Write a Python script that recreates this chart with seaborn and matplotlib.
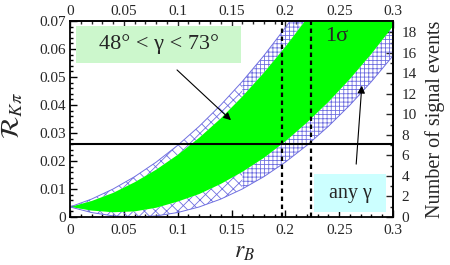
import numpy as np
import pandas as pd
import seaborn as sns
import matplotlib.pyplot as plt
from matplotlib.ticker import MultipleLocator
from matplotlib.patches import Rectangle

# --------------------------------------------------
# Values
# --------------------------------------------------
r_b = [0.00, 0.02, 0.04, 0.06, 0.08, 0.10, 0.12, 0.14,
       0.16, 0.18, 0.20, 0.22, 0.24, 0.26, 0.28, 0.30]

# outer band (any gamma)
any_gamma_upper = [0.0036, 0.0064, 0.0100, 0.0144, 0.0196, 0.0256, 0.0324, 0.0400,
                   0.0484, 0.0576, 0.0676, 0.0784, 0.0900, 0.1024, 0.1156, 0.1296]
any_gamma_lower = [0.0036, 0.0016, 0.0004, 0.0000, 0.0004, 0.0016, 0.0036, 0.0064,
                   0.0100, 0.0144, 0.0196, 0.0256, 0.0324, 0.0400, 0.0484, 0.0576]

# inner band (48 < gamma < 73)
gamma_band_upper = [0.0036, 0.0057, 0.0086, 0.0124, 0.0169, 0.0222, 0.0283, 0.0352,
                    0.0430, 0.0515, 0.0608, 0.0709, 0.0818, 0.0936, 0.1061, 0.1194]
gamma_band_lower = [0.0036, 0.0023, 0.0017, 0.0020, 0.0033, 0.0055, 0.0082, 0.0118,
                    0.0161, 0.0211, 0.0270, 0.0337, 0.0411, 0.0493, 0.0583, 0.0681]

r_kpi_measured = 0.026
r_b_limits = [0.197, 0.224]
events_per_unit = 273

x_ticks = [0, 0.05, 0.1, 0.15, 0.2, 0.25, 0.3]
x_tick_labels = ["0", "0.05", "0.1", "0.15", "0.2", "0.25", "0.3"]
y_ticks = [0, 0.01, 0.02, 0.03, 0.04, 0.05, 0.06, 0.07]
y_tick_labels = ["0", "0.01", "0.02", "0.03", "0.04", "0.05", "0.06", "0.07"]
event_ticks = [0, 2, 4, 6, 8, 10, 12, 14, 16, 18]

df = pd.DataFrame({
    "r_B": r_b,
    "any_up": any_gamma_upper,
    "any_lo": any_gamma_lower,
    "g_up": gamma_band_upper,
    "g_lo": gamma_band_lower,
})

# --------------------------------------------------
# Style
# --------------------------------------------------
sns.set_theme(style="ticks")
plt.rcParams["font.family"] = ["Liberation Serif", "DejaVu Serif"]
plt.rcParams["mathtext.fontset"] = "stix"
plt.rcParams["hatch.linewidth"] = 0.6
plt.rcParams["axes.linewidth"] = 1.3

hatch_col = "#6f6fe0"
green = "#00ff00"

fig = plt.figure(figsize=(4.5, 2.65), dpi=100)
fig.patch.set_facecolor("white")
ax = fig.add_axes([0.1556, 0.1811, 0.7178, 0.7396])

# --------------------------------------------------
# Bands
# --------------------------------------------------
x = df["r_B"].to_numpy()
left = x <= 0.16
right = x >= 0.16
for mask, hatch in [(left, "xxx"), (right, "++++")]:
    ax.fill_between(x[mask], df["g_up"][mask], df["any_up"][mask],
                    facecolor="none", edgecolor=hatch_col, hatch=hatch, linewidth=0)
    ax.fill_between(x[mask], df["any_lo"][mask], df["g_lo"][mask],
                    facecolor="none", edgecolor=hatch_col, hatch=hatch, linewidth=0)

ax.fill_between(x, df["g_lo"], df["g_up"], color=green, linewidth=0)

sns.lineplot(data=df, x="r_B", y="any_up", color=hatch_col, lw=0.7, ax=ax)
sns.lineplot(data=df, x="r_B", y="any_lo", color=hatch_col, lw=0.7, ax=ax)

# measurement line and limits
ax.axhline(r_kpi_measured, color="black", lw=1.5)
for lim in r_b_limits:
    ax.axvline(lim, color="black", lw=1.6, linestyle=(0, (2, 1.6)))

# --------------------------------------------------
# Labels and boxes
# --------------------------------------------------
ax.add_patch(Rectangle((0.0056, 0.0550), 0.1532, 0.0132,
                       facecolor="#ccf7cc", edgecolor="none", zorder=3))
ax.text(0.0822, 0.0616, "48° < γ < 73°", fontsize=16,
        ha="center", va="center", zorder=4)

ax.add_patch(Rectangle((0.2266, 0.0018), 0.0669, 0.0136,
                       facecolor="#ccffff", edgecolor="none", zorder=3))
ax.text(0.260, 0.0084, "any γ", fontsize=14.5,
        ha="center", va="center", zorder=4)

ax.text(0.248, 0.0644, "1σ", fontsize=16, ha="center", va="center", zorder=4)

ax.annotate("", xy=(0.1514, 0.0339), xytext=(0.0975, 0.0532),
            arrowprops=dict(arrowstyle="-|>", color="black", lw=0.8,
                            mutation_scale=11), zorder=5)
ax.annotate("", xy=(0.2712, 0.0479), xytext=(0.2656, 0.0179),
            arrowprops=dict(arrowstyle="-|>", color="black", lw=0.8,
                            mutation_scale=11), zorder=5)

# --------------------------------------------------
# Axes
# --------------------------------------------------
ax.set_xlim(0, 0.3)
ax.set_ylim(0, 0.07)
ax.set_xticks(x_ticks, x_tick_labels, fontsize=11)
ax.set_yticks(y_ticks, y_tick_labels, fontsize=11)
ax.xaxis.set_minor_locator(MultipleLocator(0.01))
ax.yaxis.set_minor_locator(MultipleLocator(0.002))
ax.tick_params(which="both", direction="in", color="black", width=1,
               top=False, right=False)
ax.tick_params(axis="x", pad=5)
ax.tick_params(axis="y", pad=3)
ax.tick_params(which="major", length=5)
ax.tick_params(which="minor", length=2.5)

ax.set_xlabel(r"$r_B$", fontsize=17)
ax.xaxis.set_label_coords(0.54, -0.13)
ax.set_ylabel(r"$\mathcal{R}_{K\pi}$", fontsize=19)
ax.yaxis.set_label_coords(-0.14, 0.52)

top = ax.secondary_xaxis("top")
top.set_xticks(x_ticks, x_tick_labels, fontsize=11)
top.xaxis.set_minor_locator(MultipleLocator(0.01))
top.tick_params(which="both", direction="in", width=1, pad=2)
top.tick_params(which="major", length=5)
top.tick_params(which="minor", length=2.5)

right_ax = ax.secondary_yaxis("right", functions=(lambda v: v * events_per_unit,
                                                  lambda n: n / events_per_unit))
right_ax.set_yticks(event_ticks, [str(t) for t in event_ticks], fontsize=11)
right_ax.yaxis.set_minor_locator(MultipleLocator(1))
right_ax.tick_params(which="both", direction="in", width=1, pad=6)
right_ax.tick_params(which="major", length=5)
right_ax.tick_params(which="minor", length=2.5)
right_ax.set_ylabel("Number of signal events", fontsize=14.5, labelpad=6)

for sp in ax.spines.values():
    sp.set_color("black")

fig.savefig("out.png", dpi=100)
